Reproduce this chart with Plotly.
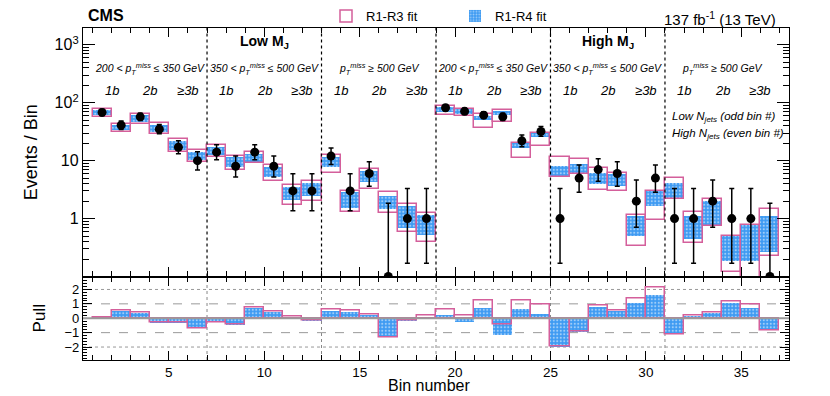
import plotly.graph_objects as go

# ---------------- data ----------------
bins = list(range(1, 37))
data = [68, 41, 57, 35, 17, 10, 14, 8, 14, 8, 3, 3,
        12, 3, 6, 0, 1, 1, 82, 71, 61, 57, 22, 32,
        1, 5, 7, 6, 2, 5, 1, 1, 2, 1, 1, 0]
data_lo = [59.8, 34.6, 49.5, 29.1, 13.1, 6.9, 10.4, 5.2, 10.4, 5.2, 1.37, 1.37,
           8.6, 1.37, 3.62, 0.0, 0.17, 0.17, 73.0, 62.6, 53.3, 49.5, 17.4, 26.4,
           0.17, 2.84, 4.42, 3.62, 0.71, 2.84, 0.17, 0.17, 0.71, 0.17, 0.17, 0.0]
data_hi = [77.3, 48.4, 65.6, 41.9, 22.1, 14.3, 18.8, 12.0, 18.8, 12.0, 5.92, 5.92,
           16.6, 5.92, 9.58, 1.84, 3.30, 3.30, 92.0, 80.5, 69.8, 65.6, 27.7, 38.7,
           3.30, 8.38, 10.77, 9.58, 4.64, 8.38, 3.30, 3.30, 4.64, 3.30, 3.30, 1.84]

r13_lo = [56.9, 30.7, 42.6, 28.7, 13.9, 9.4, 11.7, 6.9, 9.2, 4.5, 1.74, 1.98,
          6.1, 1.28, 3.2, 1.25, 0.59, 0.39, 60.8, 58.5, 36.8, 46.7, 11.0, 17.9,
          5.3, 5.9, 3.06, 2.94, 0.335, 0.96, 2.18, 0.38, 0.74, 0.122, 0.05, 0.23]
r13_hi = [79.0, 42.6, 65.0, 43.8, 23.6, 15.3, 18.6, 12.2, 13.9, 8.4, 3.8, 4.4,
          12.5, 2.94, 7.1, 2.87, 1.79, 1.25, 86.8, 79.0, 63.2, 74.0, 19.9, 30.2,
          11.7, 10.6, 7.4, 6.1, 1.17, 2.94, 5.1, 1.28, 2.18, 0.51, 0.78, 1.47]
r14_lo = [60.8, 33.6, 46.7, 31.4, 15.3, 10.3, 12.5, 7.9, 9.6, 5.3, 2.12, 2.48,
          7.9, 1.53, 4.2, 1.47, 0.69, 0.52, 69.2, 65.0, 51.3, 60.8, 16.3, 25.8,
          5.3, 5.9, 4.0, 3.7, 0.5, 1.67, 2.18, 0.45, 0.79, 0.185, 0.185, 0.26]
r14_hi = [74.0, 41.0, 60.8, 41.0, 21.8, 13.9, 17.4, 11.7, 13.0, 7.9, 3.5, 4.1,
          11.7, 2.83, 6.5, 2.48, 1.63, 1.17, 84.4, 77.0, 59.1, 71.0, 19.9, 30.2,
          8.1, 8.8, 6.1, 5.9, 1.1, 2.94, 4.1, 1.13, 2.04, 0.51, 0.76, 1.13]

pull_r13 = [0.03, 0.55, 0.40, -0.28, -0.32, -0.71, -0.27, -0.46, 0.76, 0.47, 0.12, -0.16,
            0.62, 0.55, 0.28, -1.32, -0.17, 0.16, 0.59, 0.16, 1.21, -0.40, 1.24, 0.96,
            -1.97, -0.93, 0.89, 0.57, 1.38, 2.12, -1.13, 0.21, 0.38, 1.17, 0.96, -0.84]
pull_r14 = [0.02, 0.54, 0.38, -0.28, -0.32, -0.67, -0.26, -0.44, 0.73, 0.45, 0.12, -0.16,
            0.54, 0.49, 0.24, -1.30, -0.16, 0.14, 0.24, -0.21, 0.77, -1.14, 0.66, 0.31,
            -1.96, -0.91, 0.80, 0.54, 1.08, 1.66, -1.09, 0.21, 0.38, 1.08, 0.77, -0.79]

group_edges = [7, 13, 19, 25, 31]
group_starts = [1, 7, 13, 19, 25, 31]
met_labels = ["200 < <i>p</i><sub>T</sub><sup>miss</sup> ≤ 350 GeV",
              "350 < <i>p</i><sub>T</sub><sup>miss</sup> ≤ 500 GeV",
              "<i>p</i><sub>T</sub><sup>miss</sup> ≥ 500 GeV"] * 2
nb_labels = ["1b", "2b", "≥3b"]
mj_labels = ["Low M<sub>J</sub>", "High M<sub>J</sub>"]
mj_centers = [10, 28]

# ---------------- styling ----------------
PINK = "#d45f9b"
BLUE = "#3d9af2"
FONT = "Liberation Sans, Arial, sans-serif"
YMIN_LOG, YMAX_LOG = -1.0, 3.29
YMIN = 10 ** YMIN_LOG
W, H = 830, 396
OFF = 8  # page body margin of the html page

centers = [b + 0.5 for b in bins]
fig = go.Figure()

pattern = dict(shape=".", bgcolor=BLUE, fgcolor="white", size=3.5, solidity=0.3)

# main panel: R1-R4 (blue, hatched)
fig.add_trace(go.Bar(
    x=centers, y=[h - l for h, l in zip(r14_hi, r14_lo)], base=r14_lo, width=1.0,
    marker=dict(color=BLUE, pattern=pattern, line=dict(width=0)),
    name="R1-R4 fit", xaxis="x", yaxis="y", showlegend=True, legendrank=2))
# main panel: R1-R3 (pink outline)
fig.add_trace(go.Bar(
    x=centers, y=[h - l for h, l in zip(r13_hi, r13_lo)], base=r13_lo, width=1.0,
    marker=dict(color="rgba(0,0,0,0)", line=dict(color=PINK, width=1.5)),
    name="R1-R3 fit", xaxis="x", yaxis="y", showlegend=True, legendrank=1))

# data points
plot_y = [d if d > 0 else YMIN for d in data]
fig.add_trace(go.Scatter(
    x=centers, y=plot_y, mode="markers",
    marker=dict(color="black", size=9),
    error_y=dict(type="data", symmetric=False,
                 array=[h - y for h, y in zip(data_hi, plot_y)],
                 arrayminus=[max(y - l, 0) if l > 0 else 0 for y, l in zip(plot_y, data_lo)],
                 color="black", thickness=1.5, width=2.5),
    xaxis="x", yaxis="y", showlegend=False))

# pull panel
fig.add_trace(go.Bar(
    x=centers, y=pull_r14, base=0, width=1.0,
    marker=dict(color=BLUE, pattern=pattern, line=dict(width=0)),
    xaxis="x2", yaxis="y2", showlegend=False))
fig.add_trace(go.Bar(
    x=centers, y=pull_r13, base=0, width=1.0,
    marker=dict(color="rgba(0,0,0,0)", line=dict(color=PINK, width=1.5)),
    xaxis="x2", yaxis="y2", showlegend=False))

# ---------------- axes ----------------
MAIN_DOM = [0.2515, 1.0]
PULL_DOM = [0.0, 0.2515]
xr = [0.5, 37.5]
common_x = dict(range=xr, showline=True, linecolor="black", linewidth=1.3, mirror="allticks",
                ticks="inside", ticklen=9, tickwidth=1.2, tickcolor="black",
                tickvals=[5, 10, 15, 20, 25, 30, 35], showgrid=False, zeroline=False,
                automargin=False,
                minor=dict(ticks="inside", ticklen=5, tickwidth=1, tickcolor="black",
                           dtick=1, tick0=0, showgrid=False))
minor_log = [m * 10 ** k for k in range(-1, 4) for m in range(2, 10)]

fig.update_layout(
    width=W, height=H,
    margin=dict(l=83 - OFF, r=W - (789 - OFF), t=28 - OFF, b=H - (360 - OFF), autoexpand=False),
    paper_bgcolor="white", plot_bgcolor="white",
    barmode="overlay", bargap=0,
    font=dict(family=FONT, color="black"),
    xaxis=dict(common_x, anchor="y", showticklabels=False),
    yaxis=dict(type="log", range=[YMIN_LOG, YMAX_LOG], domain=MAIN_DOM, anchor="x",
               showline=True, linecolor="black", linewidth=1.3, mirror="allticks",
               ticks="inside", ticklen=12, tickwidth=1.2, tickcolor="black",
               tickmode="array", tickvals=[1, 10, 100, 1000],
               ticktext=["1", "10", "10<sup>2</sup>", "10<sup>3</sup>"],
               tickfont=dict(size=16), showgrid=False, zeroline=False, automargin=False,
               minor=dict(tickmode="array", tickvals=minor_log, ticks="inside",
                          ticklen=6, tickwidth=1, tickcolor="black", showgrid=False),
               title=dict(text="Events / Bin", font=dict(size=18), standoff=12)),
    xaxis2=dict(common_x, anchor="y2", showticklabels=True, tickfont=dict(size=13.5)),
    yaxis2=dict(range=[-2.9, 2.9], domain=PULL_DOM, anchor="x2",
                showline=True, linecolor="black", linewidth=1.3, mirror="allticks",
                ticks="inside", ticklen=9, tickwidth=1.2, tickcolor="black",
                tickmode="array", tickvals=[-2, -1, 0, 1, 2],
                ticktext=["−2", "−1", "0", "1", "2"], tickfont=dict(size=13),
                showgrid=False, zeroline=False, automargin=False,
                minor=dict(ticks="inside", ticklen=4, tickwidth=1, tickcolor="black",
                           dtick=0.2, tick0=0, showgrid=False),
                title=dict(text="Pull", font=dict(size=17), standoff=14)),
    legend=dict(orientation="h", xref="container", yref="container",
                x=(326 - OFF) / W, xanchor="left", y=1 - (16 - OFF) / H, yanchor="middle",
                font=dict(size=13), bgcolor="rgba(0,0,0,0)",
                entrywidth=84, entrywidthmode="pixels", traceorder="normal"),
)

# ---------------- reference lines ----------------
shapes = []
for e in group_edges:
    shapes.append(dict(type="line", xref="x", yref="y domain", x0=e, x1=e, y0=0, y1=1,
                       line=dict(color="black", width=1.2, dash="dot"), layer="above"))
    shapes.append(dict(type="line", xref="x2", yref="y2 domain", x0=e, x1=e, y0=0, y1=1,
                       line=dict(color="#888888", width=1, dash="dot"), layer="below"))
for v, d in [(2, "dot"), (-2, "dot"), (1, "dash"), (-1, "dash")]:
    shapes.append(dict(type="line", xref="x2 domain", yref="y2", x0=0, x1=1, y0=v, y1=v,
                       line=dict(color="#999999", width=1, dash=d), layer="below"))
shapes.append(dict(type="line", xref="x2 domain", yref="y2", x0=0, x1=1, y0=0, y1=0,
                   line=dict(color="#9a9a9a", width=2), layer="above"))
fig.update_layout(shapes=shapes)

# ---------------- text ----------------
ann = []
ann.append(dict(text="<b>CMS</b>", xref="paper", yref="paper", x=0.004, y=1.037,
                xanchor="left", yanchor="middle", showarrow=False, font=dict(size=16)))
ann.append(dict(text="137 fb<sup>-1</sup> (13 TeV)", xref="paper", yref="paper", x=0.985, y=1.03,
                xanchor="right", yanchor="middle", showarrow=False, font=dict(size=15)))
ann.append(dict(text="Bin number", xref="paper", yref="paper", x=0.49, y=(360 - 396) / 332,
                xanchor="center", yanchor="bottom", showarrow=False, font=dict(size=16)))
for lab, c in zip(mj_labels, mj_centers):
    ann.append(dict(text="<b>" + lab + "</b>", xref="x", yref="paper", x=c, y=0.957,
                    xanchor="center", yanchor="middle", showarrow=False, font=dict(size=14)))
for s, lab in zip(group_starts, met_labels):
    ann.append(dict(text="<i>" + lab + "</i>", xref="x", yref="paper", x=s + 3, y=0.878,
                    xanchor="center", yanchor="middle", showarrow=False, font=dict(size=10.5)))
    for j, nb in enumerate(nb_labels):
        ann.append(dict(text="<i>" + nb + "</i>", xref="x", yref="paper", x=s + 1 + 2 * j,
                        y=0.813, xanchor="center", yanchor="middle", showarrow=False,
                        font=dict(size=13)))
ann.append(dict(text="<i>Low N<sub>jets</sub> (odd bin #)</i>", xref="x", yref="paper",
                x=31.25, y=0.732, xanchor="left", yanchor="middle", showarrow=False,
                font=dict(size=11.5)))
ann.append(dict(text="<i>High N<sub>jets</sub> (even bin #)</i>", xref="x", yref="paper",
                x=31.25, y=0.680, xanchor="left", yanchor="middle", showarrow=False,
                font=dict(size=11.5)))
fig.update_layout(annotations=ann)

fig.write_html("out.html")
